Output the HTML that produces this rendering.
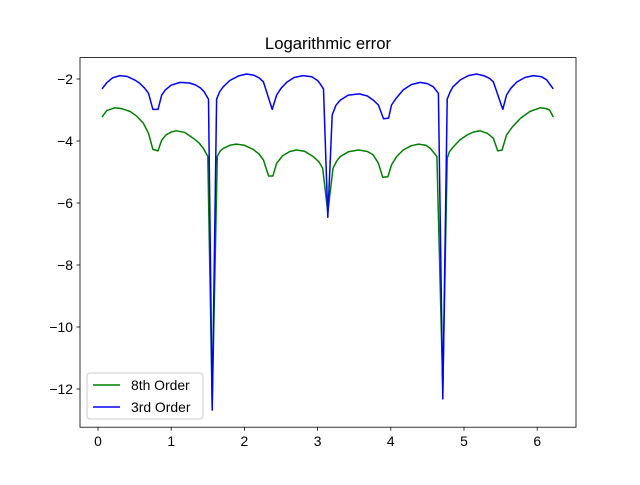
<!DOCTYPE html>
<html><head><meta charset="utf-8"><style>
body{margin:0;background:#fff;}
svg text{font-family:"Liberation Sans","DejaVu Sans",sans-serif;}
</style></head><body>
<svg id="chart" width="640" height="480" xmlns="http://www.w3.org/2000/svg">
<rect width="640" height="480" fill="#fff"/>
<text x="328" y="49" text-anchor="middle" font-size="16.7">Logarithmic error</text>
<g id="plot"></g>
<rect x="80" y="57.6" width="496" height="369.6" fill="none" stroke="#000" stroke-width="0.8"/>
<g id="ticks"></g>
<g>
<rect x="87" y="373" width="116" height="46" rx="3" fill="#fff" fill-opacity="0.8" stroke="#ccc" stroke-width="1"/>
<line x1="93" y1="385" x2="120" y2="385" stroke="green" stroke-width="1.5"/>
<text x="131" y="390" font-size="13.9">8th Order</text>
<line x1="93" y1="407" x2="120" y2="407" stroke="blue" stroke-width="1.5"/>
<text x="131" y="412" font-size="13.9">3rd Order</text>
</g>
</svg>
<script>
const xTicks=[0,1,2,3,4,5,6];
const yTicks=[-2,-4,-6,-8,-10,-12];
const greenX=[0.055,0.12,0.23,0.33,0.44,0.53,0.62,0.69,0.75,0.82,
0.87,0.93,1.00,1.07,1.18,1.30,1.38,1.44,1.50,1.56,
1.63,1.67,1.71,1.80,1.89,2.00,2.12,2.20,2.26,2.33,2.39,
2.44,2.52,2.62,2.71,2.82,2.94,3.02,3.07,3.14,
3.21,3.26,3.31,3.42,3.56,3.68,3.76,3.83,3.89,3.96,
4.01,4.08,4.17,4.28,4.38,4.48,4.54,4.63,4.71,
4.77,4.80,4.85,4.94,5.04,5.13,5.22,5.32,5.40,5.46,5.52,
5.58,5.66,5.77,5.90,6.04,6.12,6.17,6.22];
const greenY=[-3.23,-3.02,-2.93,-2.96,-3.05,-3.2,-3.43,-3.75,-4.27,-4.32,
-3.97,-3.8,-3.71,-3.67,-3.72,-3.91,-4.06,-4.24,-4.50,-12.5,
-4.5,-4.32,-4.24,-4.14,-4.10,-4.14,-4.27,-4.42,-4.61,-5.13,-5.13,
-4.72,-4.48,-4.34,-4.29,-4.33,-4.50,-4.68,-4.88,-6.3,
-4.88,-4.65,-4.50,-4.35,-4.29,-4.34,-4.45,-4.72,-5.17,-5.15,
-4.77,-4.5,-4.29,-4.15,-4.10,-4.14,-4.24,-4.5,-12.0,
-4.56,-4.35,-4.2,-3.97,-3.81,-3.71,-3.67,-3.75,-3.91,-4.32,-4.29,
-3.81,-3.55,-3.27,-3.05,-2.93,-2.95,-3.0,-3.23];
const blueX=[0.055,0.12,0.20,0.30,0.40,0.50,0.57,0.64,0.69,0.75,0.82,
0.87,0.92,1.00,1.12,1.25,1.33,1.40,1.45,1.51,1.56,
1.62,1.66,1.71,1.80,1.92,2.03,2.13,2.20,2.26,2.38,
2.44,2.50,2.58,2.68,2.80,2.92,3.00,3.03,3.08,3.14,
3.20,3.25,3.31,3.42,3.57,3.68,3.76,3.83,3.90,3.97,
4.01,4.08,4.17,4.28,4.40,4.50,4.58,4.65,4.71,
4.77,4.81,4.85,4.95,5.06,5.17,5.28,5.35,5.40,5.53,
5.58,5.64,5.72,5.83,5.95,6.06,6.13,6.22];
const blueY=[-2.32,-2.12,-1.96,-1.89,-1.92,-2.03,-2.14,-2.30,-2.46,-2.98,-2.98,
-2.52,-2.35,-2.2,-2.11,-2.13,-2.19,-2.29,-2.41,-2.65,-12.68,
-2.65,-2.42,-2.25,-2.05,-1.9,-1.84,-1.88,-1.96,-2.09,-2.98,
-2.52,-2.3,-2.1,-1.95,-1.89,-1.93,-2.05,-2.14,-2.32,-6.46,
-3.16,-2.85,-2.68,-2.52,-2.48,-2.55,-2.68,-2.84,-3.28,-3.26,
-2.84,-2.6,-2.35,-2.18,-2.11,-2.15,-2.25,-2.46,-12.32,
-2.65,-2.42,-2.25,-2.03,-1.89,-1.84,-1.90,-1.98,-2.09,-2.98,
-2.52,-2.3,-2.1,-1.95,-1.89,-1.93,-2.03,-2.32];
const X=v=>98+73.2*v;
const Y=v=>79+(-2-v)*31;
const NS='http://www.w3.org/2000/svg';
const plot=document.getElementById('plot');
function line(xs,ys,color,name){
  const p=document.createElementNS(NS,'polyline');
  p.setAttribute('points',xs.map((x,i)=>X(x).toFixed(1)+','+Y(ys[i]).toFixed(1)).join(' '));
  p.setAttribute('fill','none');p.setAttribute('stroke',color);p.setAttribute('stroke-width','1.5');
  p.setAttribute('stroke-linejoin','round');
  
  
  plot.appendChild(p);
}
line(greenX,greenY,'green','series-8th-order');
line(blueX,blueY,'blue','series-3rd-order');
const tg=document.getElementById('ticks');
xTicks.forEach(t=>{
  const l=document.createElementNS(NS,'line');
  l.setAttribute('x1',X(t));l.setAttribute('x2',X(t));l.setAttribute('y1',427.2);l.setAttribute('y2',430.7);
  l.setAttribute('stroke','#000');l.setAttribute('stroke-width','0.8');
  
  
  tg.appendChild(l);
  const tx=document.createElementNS(NS,'text');
  tx.setAttribute('x',X(t));tx.setAttribute('y',446);tx.setAttribute('text-anchor','middle');tx.setAttribute('font-size','13.9');
  tx.textContent=t;
  
  
  tg.appendChild(tx);
});
yTicks.forEach(t=>{
  const l=document.createElementNS(NS,'line');
  l.setAttribute('x1',76.5);l.setAttribute('x2',80);l.setAttribute('y1',Y(t));l.setAttribute('y2',Y(t));
  l.setAttribute('stroke','#000');l.setAttribute('stroke-width','0.8');
  
  
  tg.appendChild(l);
  const tx=document.createElementNS(NS,'text');
  tx.setAttribute('x',73);tx.setAttribute('y',Y(t)+5);tx.setAttribute('text-anchor','end');tx.setAttribute('font-size','13.9');
  tx.textContent='\u2212'+Math.abs(t);
  
  
  tg.appendChild(tx);
});
</script>
</body></html>
